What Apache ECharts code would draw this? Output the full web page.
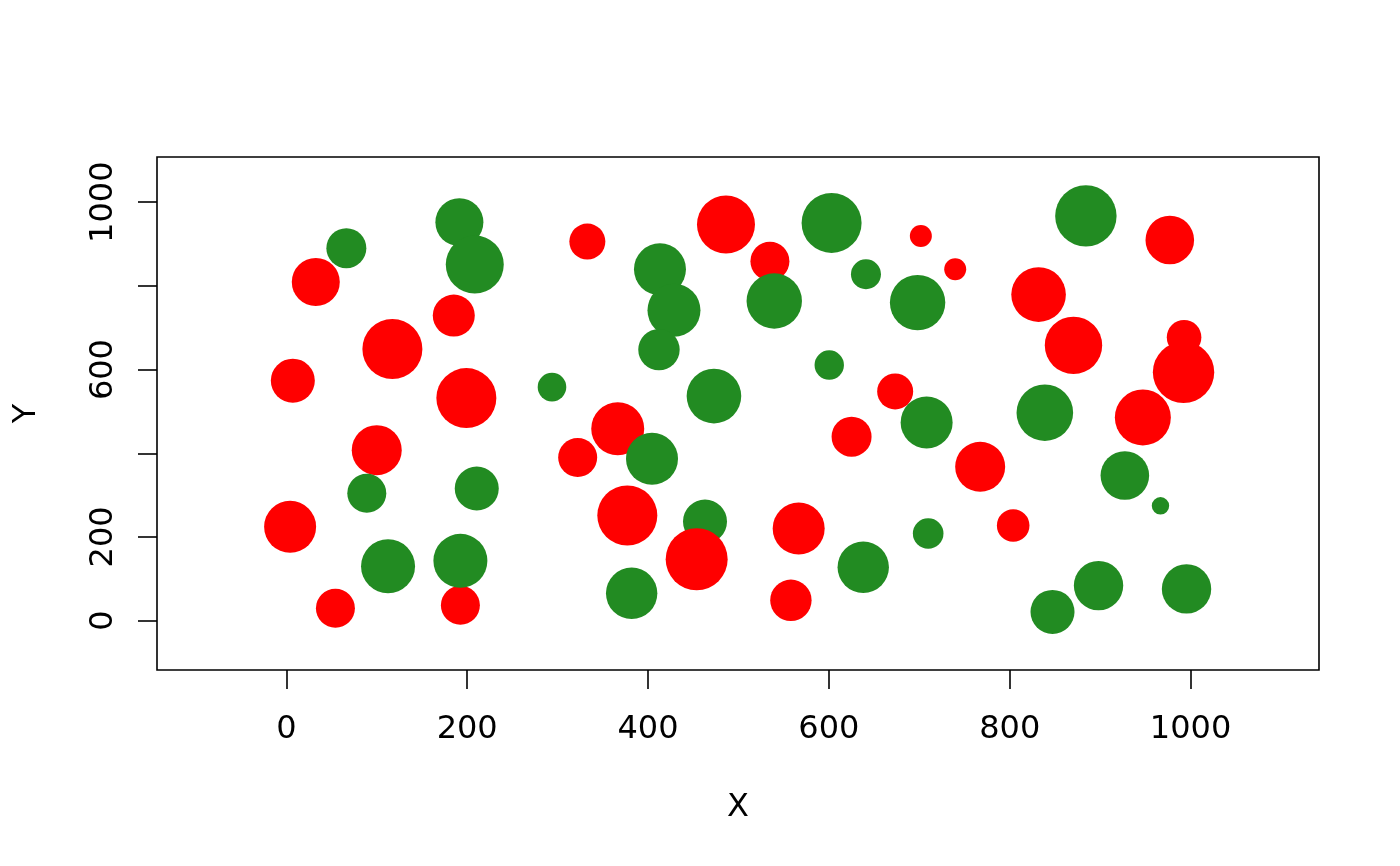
<!DOCTYPE html>
<html>
<head>
<meta charset="utf-8">
<script src="https://cdn.jsdelivr.net/npm/echarts@6/dist/echarts.min.js"></script>
<style>
  html, body { margin: 0; padding: 0; background: #fff; }
  #chart { width: 1400px; height: 866px; }
</style>
</head>
<body>
<div id="chart"></div>
<script>
// ---- data ----
const redX = [32.6, 185.2, 117.3, 7.2, 199.1, 100.0, 4.2, 54.3, 192.5, 332.9,
              486.2, 534.8, 366.5, 322.2, 377.1, 566.6, 558.0, 453.8, 977.0, 701.7,
              739.7, 831.9, 870.5, 992.8, 992.2, 673.3, 947.2, 625.1, 767.3, 803.8];
const redY = [809.3, 729.0, 649.0, 573.4, 531.8, 407.4, 224.2, 29.4, 36.6, 906.0,
              946.7, 858.9, 458.6, 390.0, 251.2, 220.1, 48.6, 146.7, 909.8, 919.4,
              839.7, 779.2, 657.9, 677.0, 593.3, 547.8, 485.6, 439.5, 367.7, 227.3];
const redSize = [24, 21, 30, 22, 30, 25, 26, 19.5, 19.5, 18,
                 29, 19.5, 26.5, 19.5, 30, 26, 20.7, 31, 24.3, 11,
                 11, 27.3, 28.7, 17.3, 30.7, 18, 28, 20, 25, 16.3];

const greenX = [191.4, 208.4, 66.4, 89.0, 210.6, 112.5, 192.5, 413.2, 603.0, 428.7,
                539.6, 412.1, 600.4, 293.8, 472.9, 404.4, 463.0, 381.9, 884.2, 641.0,
                698.1, 708.1, 838.8, 927.3, 966.7, 709.8, 638.0, 898.2, 995.5, 847.3];
const greenY = [952.2, 851.0, 890.0, 304.5, 315.8, 129.9, 142.8, 839.7, 950.5, 741.6,
                763.9, 647.6, 610.8, 558.1, 536.6, 386.8, 236.8, 65.3, 967.2, 827.8,
                760.0, 473.7, 496.9, 346.9, 274.4, 208.1, 127.5, 83.7, 75.8, 20.8];
const greenSize = [24, 29, 20, 19.5, 22, 27, 27, 26, 30, 26.5,
                   27.7, 20.7, 14.7, 14.3, 27.3, 26, 22, 25.7, 30.7, 15,
                   27.7, 26, 28.3, 24.3, 8.7, 15.3, 25.7, 24.7, 24.7, 22];

// red points that sit on top of the green ones in the reference
const redOnTop = [17];

const tickValues = [0, 200, 400, 600, 800, 1000];
const xTickLabels = [0, 200, 400, 600, 800, 1000];
const yTickLabels = [0, 200, 600, 1000];

// ---- build items ----
const RED = '#FF0000', GREEN = '#228B22';
const items = [];
const topItems = [];
redX.forEach((x, i) => {
  const it = { value: [x, redY[i], redSize[i]], itemStyle: { color: RED } };
  (redOnTop.includes(i) ? topItems : items).push(it);
});
const greenItems = greenX.map((x, i) => ({ value: [x, greenY[i], greenSize[i]], itemStyle: { color: GREEN } }));
const data = items.concat(greenItems, topItems);

const font = 'DejaVu Sans';
const plain = v => String(v);
const chart = echarts.init(document.getElementById('chart'), null, { renderer: 'canvas' });
chart.setOption({
  animation: false,
  backgroundColor: '#fff',
  grid: {
    left: 157, right: 81, top: 157, bottom: 196,
    containLabel: false,
    outerBoundsMode: 'none',
    show: true, borderColor: '#000', borderWidth: 1.6, backgroundColor: 'transparent'
  },
  xAxis: {
    type: 'value', min: -143, max: 1142,
    name: 'X', nameLocation: 'middle', nameGap: 122,
    nameTextStyle: { fontFamily: font, fontSize: 32, color: '#000' },
    axisLine: { show: false, onZero: false },
    splitLine: { show: false },
    axisTick: { show: true, inside: false, length: 19, customValues: tickValues,
                lineStyle: { color: '#000', width: 1.6 } },
    axisLabel: { show: true, margin: 44, customValues: xTickLabels, formatter: plain,
                 fontFamily: font, fontSize: 32, color: '#000' }
  },
  yAxis: {
    type: 'value', min: -118, max: 1108,
    name: 'Y', nameLocation: 'middle', nameGap: 114, nameRotate: 90,
    nameTextStyle: { fontFamily: font, fontSize: 32, color: '#000' },
    axisLine: { show: false, onZero: false },
    splitLine: { show: false },
    axisTick: { show: true, inside: false, length: 19, customValues: tickValues,
                lineStyle: { color: '#000', width: 1.6 } },
    axisLabel: { show: true, margin: 37, rotate: 90, customValues: yTickLabels, formatter: plain,
                 fontFamily: font, fontSize: 32, color: '#000' }
  },
  series: [{
    type: 'scatter',
    symbol: 'circle',
    symbolSize: d => d[2] * 2,
    data: data,
    itemStyle: { opacity: 1, borderWidth: 0 },
    emphasis: { disabled: true }
  }]
});
</script>
</body>
</html>
